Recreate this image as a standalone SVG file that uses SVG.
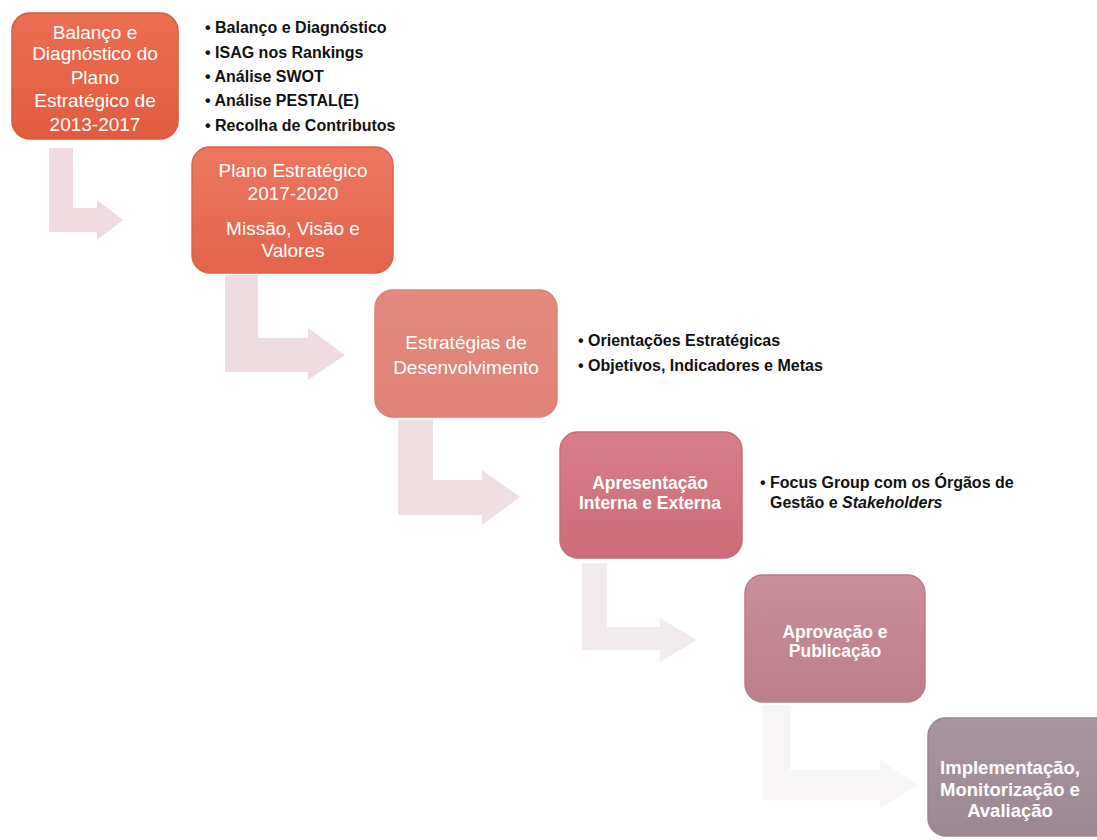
<svg xmlns="http://www.w3.org/2000/svg" width="1097" height="840" viewBox="0 0 1097 840">
<defs>
<linearGradient id="g1" x1="0" y1="0" x2="0" y2="1"><stop offset="0" stop-color="#EC6E52"/><stop offset="1" stop-color="#E25B3F"/></linearGradient>
<linearGradient id="g2" x1="0" y1="0" x2="0" y2="1"><stop offset="0" stop-color="#EC7760"/><stop offset="1" stop-color="#E3644C"/></linearGradient>
<linearGradient id="g3" x1="0" y1="0" x2="0" y2="1"><stop offset="0" stop-color="#E38A7C"/><stop offset="1" stop-color="#DF8375"/></linearGradient>
<linearGradient id="g4" x1="0" y1="0" x2="0" y2="1"><stop offset="0" stop-color="#D77E87"/><stop offset="1" stop-color="#CC6C77"/></linearGradient>
<linearGradient id="g5" x1="0" y1="0" x2="0" y2="1"><stop offset="0" stop-color="#C98F9B"/><stop offset="1" stop-color="#BC7E8B"/></linearGradient>
<linearGradient id="g6" x1="0" y1="0" x2="0" y2="1"><stop offset="0" stop-color="#A9959F"/><stop offset="1" stop-color="#9C8892"/></linearGradient>
</defs>
<style>
.box{stroke-width:1.5}
.bt{font-family:"Liberation Sans",Arial,sans-serif;fill:#fff;text-anchor:middle;font-size:19px}
.bb{font-family:"Liberation Sans",Arial,sans-serif;fill:#fff;text-anchor:middle;font-weight:bold}
.side{font-family:"Liberation Sans",Arial,sans-serif;fill:#111;font-weight:bold;font-size:16px}
</style>
<rect width="1097" height="840" fill="#ffffff"/>
<g id="connectors">
<path d="M49,148 H73 V208 H97 V200 L123,220 L97,240 V232 H49 Z" fill="#F0DADF"/>
<path d="M225,275 H258 V338 H308 V328 L345,355 L308,380 V372 H225 Z" fill="#F0DCE0"/>
<path d="M398,420 H433 V480 H482 V470 L520,497 L482,525 V515 H398 Z" fill="#EEDFE2"/>
<path d="M582,563 H607 V627 H660 V618 L697,640 L660,662 V650 H582 Z" fill="#F1EBED"/>
<path d="M763,705 H790 V770 H880 V760 L918,785 L880,808 V800 H763 Z" fill="#F8F5F6"/>
</g>
<g id="n1">
<rect class="box" x="12" y="13" width="166" height="126" rx="18" fill="url(#g1)" stroke="#DA583D"/>
<text class="bt"><tspan x="95" y="39">Balanço e</tspan><tspan x="95" y="60">Diagnóstico do</tspan><tspan x="95" y="84">Plano</tspan><tspan x="95" y="107">Estratégico de</tspan><tspan x="95" y="131">2013-2017</tspan></text>
</g>
<g id="n1-notes">
<text class="side"><tspan x="205" y="33">• Balanço e Diagnóstico</tspan><tspan x="205" y="58">• ISAG nos Rankings</tspan><tspan x="205" y="82">• Análise SWOT</tspan><tspan x="205" y="106">• Análise PESTAL(E)</tspan><tspan x="205" y="131">• Recolha de Contributos</tspan></text>
</g>
<g id="n2">
<rect class="box" x="192" y="147" width="201" height="126" rx="18" fill="url(#g2)" stroke="#DE624A"/>
<text class="bt"><tspan x="293" y="177">Plano Estratégico</tspan><tspan x="293" y="200">2017-2020</tspan><tspan x="293" y="235">Missão, Visão e</tspan><tspan x="293" y="257">Valores</tspan></text>
</g>
<g id="n3">
<rect class="box" x="375" y="290" width="182" height="127" rx="18" fill="url(#g3)" stroke="#DD8275"/>
<text class="bt"><tspan x="466" y="349">Estratégias de</tspan><tspan x="466" y="374">Desenvolvimento</tspan></text>
</g>
<g id="n3-notes">
<text class="side"><tspan x="578" y="346">• Orientações Estratégicas</tspan><tspan x="578" y="371">• Objetivos, Indicadores e Metas</tspan></text>
</g>
<g id="n4">
<rect class="box" x="560" y="432" width="182" height="126" rx="18" fill="url(#g4)" stroke="#C96B75"/>
<text class="bb" font-size="17.5"><tspan x="650" y="489">Apresentação</tspan><tspan x="650" y="509">Interna e Externa</tspan></text>
</g>
<g id="n4-notes">
<text class="side"><tspan x="760" y="488">• Focus Group com os Órgãos de</tspan><tspan x="770" y="508">Gestão e <tspan font-style="italic">Stakeholders</tspan></tspan></text>
</g>
<g id="n5">
<rect class="box" x="745" y="575" width="180" height="127" rx="18" fill="url(#g5)" stroke="#B97C89"/>
<text class="bb" font-size="17.5"><tspan x="835" y="638">Aprovação e</tspan><tspan x="835" y="657">Publicação</tspan></text>
</g>
<g id="n6">
<rect class="box" x="928" y="718" width="185" height="118" rx="18" fill="url(#g6)" stroke="#978590"/>
<text class="bb" font-size="18.5"><tspan x="1010" y="774">Implementação,</tspan><tspan x="1010" y="796">Monitorização e</tspan><tspan x="1010" y="817">Avaliação</tspan></text>
</g>
</svg>
